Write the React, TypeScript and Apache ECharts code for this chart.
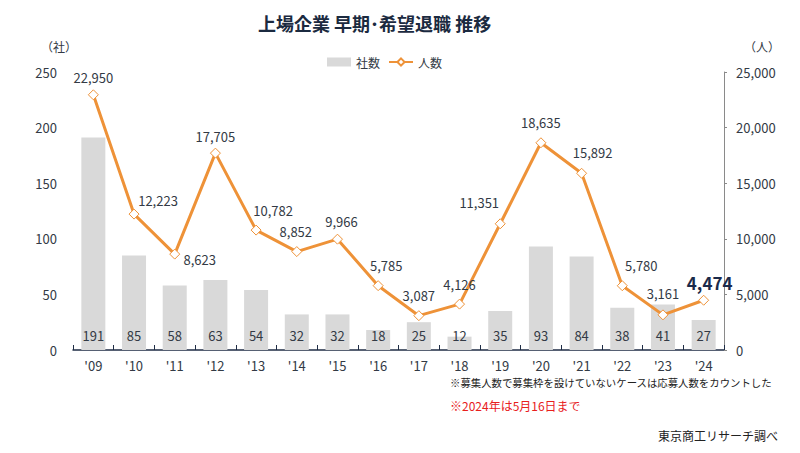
import React, { useEffect, useRef } from "react";
import * as echarts from "echarts";

const years = ["'09", "'10", "'11", "'12", "'13", "'14", "'15", "'16", "'17", "'18", "'19", "'20", "'21", "'22", "'23", "'24"];
const companies = [191, 85, 58, 63, 54, 32, 32, 18, 25, 12, 35, 93, 84, 38, 41, 27];
const people = [22950, 12223, 8623, 17705, 10782, 8852, 9966, 5785, 3087, 4126, 11351, 18635, 15892, 5780, 3161, 4474];
const labelOffsets: [number, number][] = [
  [0, -17], [24, -14], [25, 5], [0, -17], [17, -20], [-1, -20], [4, -18], [8, -20],
  [0, -20], [0, -20], [-21, -21], [0, -20], [11, -21], [19, -20], [0, -21], [6, -18],
];

const FONT = "'Noto Sans CJK JP', 'Noto Sans', sans-serif";
const TXT = "#333a45";

export default function App() {
  const ref = useRef<HTMLDivElement>(null);
  useEffect(() => {
    if (!ref.current) return;
    const chart = echarts.init(ref.current, undefined, { renderer: "svg" });
    const lineData = people.map((v, i) => {
      const last = i === people.length - 1;
      return {
        value: v,
        label: {
          offset: labelOffsets[i],
          fontSize: last ? 17 : 13,
          fontWeight: last ? "bold" : "normal",
          color: last ? "#1b2a4a" : TXT,
        },
      };
    });
    chart.setOption({
      animation: false,
      backgroundColor: "#ffffff",
      textStyle: { fontFamily: FONT },
      title: {
        text: "上場企業 早期･希望退職 推移",
        left: 253,
        top: 9,
        textStyle: { fontSize: 18, fontWeight: "bold", color: "#1b2a40", fontFamily: FONT },
      },
      legend: {
        top: 51,
        left: 322,
        itemGap: 8,
        itemWidth: 24,
        itemHeight: 9,
        textStyle: { fontSize: 12, color: TXT, fontFamily: FONT },
        data: [
          { name: "社数", icon: "rect" },
          { name: "人数" },
        ],
      },
      grid: { left: 73, right: 76, top: 72, bottom: 103 },
      xAxis: {
        type: "category",
        data: years,
        axisLine: { lineStyle: { color: "#1f2d45", width: 1.5 } },
        axisTick: { show: true, inside: true, length: 5, lineStyle: { color: "#1f2d45" } },
        axisLabel: { color: TXT, fontSize: 13, margin: 9, fontFamily: FONT },
      },
      yAxis: [
        {
          type: "value",
          min: 0,
          max: 250,
          interval: 50,
          name: "（社）",
          nameLocation: "end",
          nameGap: 20,
          nameTextStyle: { color: TXT, fontSize: 12, align: "right", padding: [0, -4, 0, 0] },
          axisLine: { show: false },
          axisTick: { show: false },
          splitLine: { show: false },
          axisLabel: { color: TXT, fontSize: 13, margin: 16 },
        },
        {
          type: "value",
          min: 0,
          max: 25000,
          interval: 5000,
          name: "（人）",
          nameLocation: "end",
          nameGap: 20,
          nameTextStyle: { color: TXT, fontSize: 12, align: "left", padding: [0, 0, 0, 20] },
          axisLine: { show: true, lineStyle: { color: "#8a8a8a" } },
          axisTick: { show: true, inside: false, length: 3, lineStyle: { color: "#8a8a8a" } },
          splitLine: { show: false },
          axisLabel: {
            color: TXT,
            fontSize: 13,
            margin: 12,
            formatter: (v: number) => v.toLocaleString("en-US"),
          },
        },
      ],
      series: [
        {
          name: "社数",
          type: "bar",
          data: companies,
          barWidth: 24,
          itemStyle: { color: "#d9d9d9" },
          label: {
            show: true,
            position: "insideBottom",
            distance: 8,
            color: TXT,
            fontSize: 13,
            fontFamily: FONT,
          },
          z: 1,
        },
        {
          name: "人数",
          type: "line",
          yAxisIndex: 1,
          data: lineData,
          symbol: "diamond",
          symbolSize: 10,
          lineStyle: { color: "#ee9238", width: 3 },
          itemStyle: { color: "#ffffff", borderColor: "#ee9238", borderWidth: 1 },
          label: {
            show: true,
            position: "inside",
            color: TXT,
            fontSize: 13,
            fontFamily: FONT,
            textBorderWidth: 0,
            formatter: (p: any) => Number(p.value).toLocaleString("en-US"),
          },
          z: 3,
        },
      ],
      graphic: [
        {
          type: "text",
          left: 450,
          top: 377,
          style: {
            text: "※募集人数で募集枠を設けていないケースは応募人数をカウントした",
            fill: "#222222",
            font: `10.4px ${FONT}`,
          },
        },
        {
          type: "text",
          left: 450,
          top: 399,
          style: {
            text: "※2024年は5月16日まで",
            fill: "#e8201c",
            font: `12px ${FONT}`,
          },
        },
        {
          type: "text",
          right: 22,
          top: 429,
          style: {
            text: "東京商工リサーチ調べ",
            fill: "#222222",
            font: `12px ${FONT}`,
          },
        },
      ],
    });
    return () => chart.dispose();
  }, []);
  return <div ref={ref} style={{ width: 800, height: 453, position: "absolute", left: 0, top: 0 }} />;
}
